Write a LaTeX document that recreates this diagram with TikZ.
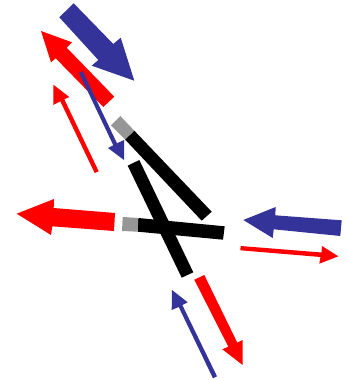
\documentclass[tikz,border=0pt]{standalone}
\definecolor{arrowblue}{HTML}{333399}
\definecolor{barred}{HTML}{FF0000}
\definecolor{bargray}{HTML}{969696}
\tikzset{
  redshape/.style={fill=barred,draw=none},
  blueshape/.style={fill=arrowblue,draw=none},
  blackbar/.style={fill=black,draw=none},
  graybar/.style={fill=bargray,draw=none}
}
\begin{document}
\begin{tikzpicture}[x=1pt,y=-1pt]
\useasboundingbox (0,0) rectangle (346,380);
% big blue, upper
\fill[blueshape] (73.7,3.3) -- (113.3,44) -- (120.7,37.7) -- (134.3,80.7) -- (91.7,65.7) -- (98.3,60) -- (59.3,17.3) -- cycle;
% big red, upper
\fill[redshape] (41,31) -- (72,42.3) -- (66.7,47.7) -- (114.3,96.7) -- (103.3,107) -- (55.7,58.3) -- (51,62.3) -- cycle;
% thin red, upper
\fill[redshape] (53.3,84.7) -- (69.3,97) -- (64.3,99.3) -- (98.7,171.3) -- (94.7,173) -- (60.3,101.3) -- (53.3,105) -- cycle;
% thin blue, upper
\fill[blueshape] (82.7,71.3) -- (117,143.3) -- (124,140) -- (124,160) -- (108,148) -- (113.3,145.3) -- (79,73) -- cycle;
% bar 1
\fill[blackbar] (134.3,130.7) -- (211.7,211.7) -- (201.7,220.7) -- (125,139.5) -- cycle;
\fill[graybar] (120.3,116) -- (134.3,130.7) -- (125,139.5) -- (111,125.3) -- cycle;
% bar 2
\fill[blackbar] (139.3,160) -- (193.3,272.3) -- (181.7,277.7) -- (127.7,165.7) -- cycle;
% bar 3
\fill[blackbar] (138.3,218) -- (224.7,226.3) -- (223,239.7) -- (137.7,231.7) -- cycle;
\fill[graybar] (122.7,217) -- (138.3,218) -- (137.7,231.7) -- (122,231) -- cycle;
% big red, left
\fill[redshape] (16.7,213.7) -- (54,199) -- (53.7,208) -- (115,213) -- (114,231) -- (52.3,226.3) -- (51,235) -- cycle;
% big blue, right
\fill[blueshape] (243.3,220) -- (275.7,207) -- (275.3,215.3) -- (341.7,220.3) -- (340.3,236) -- (273.7,229.3) -- (272.7,238) -- cycle;
% thin red, right
\fill[redshape] (240.7,246) -- (321.5,252.5) -- (322,246) -- (338.3,256.3) -- (319.3,263.7) -- (320.5,257) -- (240.3,250.3) -- cycle;
% big red, lower
\fill[redshape] (204.3,275) -- (237.3,342.7) -- (242.7,340) -- (242.7,365) -- (222.3,349.3) -- (228.3,346.7) -- (194.3,279.7) -- cycle;
% thin blue, lower
\fill[blueshape] (172,290) -- (187.7,302.3) -- (182.3,305) -- (217,376.3) -- (213,378.3) -- (178.7,307) -- (171.7,310) -- cycle;
\end{tikzpicture}
\end{document}
